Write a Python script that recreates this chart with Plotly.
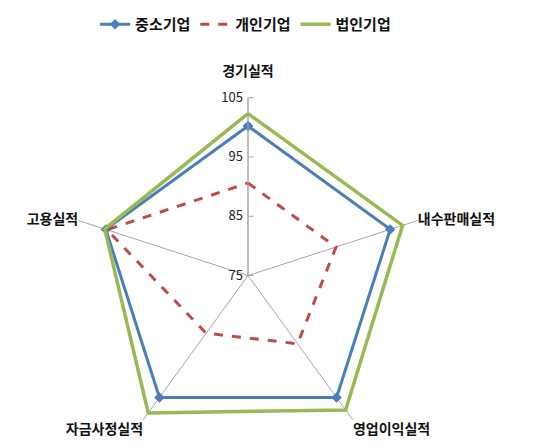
import plotly.graph_objects as go

# axes (clockwise from top)
categories = ["경기실적", "내수판매실적", "영업이익실적", "자금사정실적", "고용실적"]

sme = [100.2, 100.2, 100.4, 100.4, 100.2]       # 중소기업
personal = [90.6, 90.6, 89.2, 87.0, 100.0]      # 개인기업
corporate = [102.3, 102.4, 103.0, 103.6, 100.4]  # 법인기업

radial_ticks = [75, 85, 95, 105]

font_kr = "Noto Sans CJK KR"


def closed(vals):
    return vals + vals[:1]


theta = closed(categories)

fig = go.Figure()
fig.add_trace(go.Scatterpolar(
    r=closed(sme), theta=theta, name="중소기업", mode="lines+markers",
    line=dict(color="#4A7EBB", width=3),
    marker=dict(symbol="diamond", size=8, color="#4A7EBB"),
))
fig.add_trace(go.Scatterpolar(
    r=closed(personal), theta=theta, name="개인기업", mode="lines",
    line=dict(color="#BE4B48", width=3, dash="dash"),
))
fig.add_trace(go.Scatterpolar(
    r=closed(corporate), theta=theta, name="법인기업", mode="lines",
    line=dict(color="#98B954", width=3.5),
))

# push the top label away from the radial tick labels
ticktext = [categories[0] + "<br> "] + categories[1:]

fig.update_layout(
    width=540, height=446,
    margin=dict(l=0, r=0, t=0, b=0),
    paper_bgcolor="white",
    font=dict(family=font_kr, size=13, color="#222222"),
    legend=dict(
        orientation="h", x=0.44, xanchor="center", y=1.0, yanchor="top",
        font=dict(family=font_kr, size=15, color="#111111", weight="bold"),
        itemwidth=30,
    ),
    polar=dict(
        domain=dict(x=[62 / 540, 418 / 540], y=[0.0, 0.80]),
        bgcolor="white",
        gridshape="linear",
        angularaxis=dict(
            direction="clockwise", rotation=90,
            tickmode="array", tickvals=categories, ticktext=ticktext,
            showline=False, showgrid=True, gridcolor="#A6A6A6", gridwidth=1,
            ticks="", tickfont=dict(family=font_kr, size=14, color="#111111", weight="bold"),
        ),
        radialaxis=dict(
            range=[75, 105], tickvals=radial_ticks, angle=90, tickangle=90,
            showgrid=False, showline=True, linecolor="#A6A6A6", linewidth=1,
            ticks="inside", ticklen=5, tickcolor="#A6A6A6",
            tickfont=dict(family=font_kr, size=13, color="#222222"),
            side="counterclockwise",
        ),
    ),
)

fig.write_html("out.html")
